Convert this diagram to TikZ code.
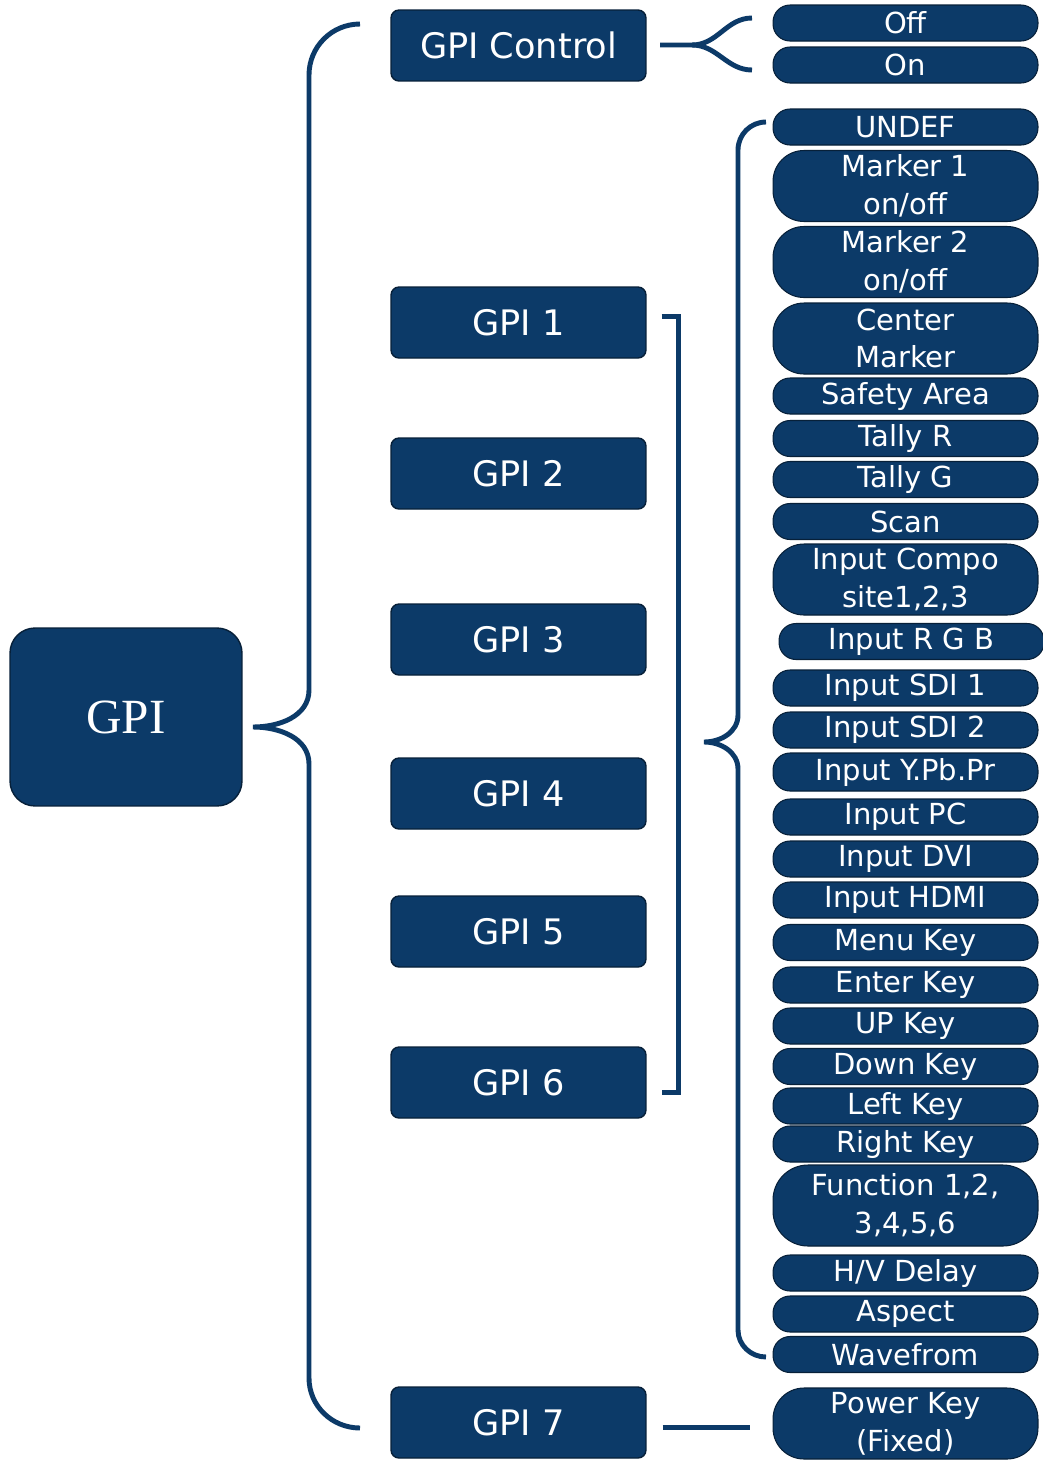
\documentclass[tikz,border=0pt]{standalone}
\usepackage{fontspec}
\setmainfont{DejaVu Sans}
\newfontfamily\gpifont{Liberation Serif}
\usepackage{tikz}
\usetikzlibrary{calc}
\usepackage{xcolor}
\definecolor{gpiblue}{RGB}{12, 58, 104}

\begin{document}
\begin{tikzpicture}[
  x=0.02cm, y=-0.02cm,
  box/.style={draw=gpiblue!55!black, line width=0.8pt, fill=gpiblue, text=white,
              rounded corners=0.16cm, minimum width=5.1cm, minimum height=1.42cm,
              inner sep=0pt, align=center, font=\fontsize{20}{24}\selectfont},
  pill/.style={draw=gpiblue!55!black, line width=0.6pt, fill=gpiblue, text=white,
               rounded corners=0.34cm, minimum width=5.3cm, minimum height=0.72cm,
               inner sep=0pt, align=center, font=\fontsize{16.5}{21.5}\selectfont},
  tallpill/.style={pill, rounded corners=0.62cm, minimum height=1.42cm},
  brace/.style={draw=gpiblue, line width=2.8pt}
]
  \fill[white] (0,0) rectangle (1042,1461);
  \useasboundingbox (0,0) rectangle (1042,1461);

  % root
  \node[box, minimum width=4.64cm, minimum height=3.56cm, rounded corners=0.5cm,
        font=\gpifont\fontsize{28}{32}\selectfont] (gpi) at (126,717) {GPI};

  % inputs
  \node[box] (ctl) at (518.5,45.5) {GPI Control};
  \node[box] (g1) at (518.5,322.5) {GPI 1};
  \node[box] (g2) at (518.5,473.5) {GPI 2};
  \node[box] (g3) at (518.5,639.5) {GPI 3};
  \node[box] (g4) at (518.5,793.5) {GPI 4};
  \node[box] (g5) at (518.5,931.5) {GPI 5};
  \node[box] (g6) at (518.5,1082.5) {GPI 6};
  \node[box] (g7) at (518.5,1422.5) {GPI 7};

  % settings
  \node[pill] (off) at (905.5,23) {Off};
  \node[pill] (on) at (905.5,65) {On};
  \node[pill] (undef) at (905.5,127) {UNDEF};
  \node[tallpill] (mk1) at (905.5,186) {Marker 1\\on/off};
  \node[tallpill] (mk2) at (905.5,262) {Marker 2\\on/off};
  \node[tallpill] (ctrmk) at (905.5,338.5) {Center\\Marker};
  \node[pill] (safety) at (905.5,396) {Safety Area};
  \node[pill] (tallyr) at (905.5,438.5) {Tally R};
  \node[pill] (tallyg) at (905.5,479.5) {Tally G};
  \node[pill] (scan) at (905.5,521.5) {Scan};
  \node[tallpill] (incomp) at (905.5,579.5) {Input Compo\\site1,2,3};
  \node[pill] (inrgb) at (911.5,641.5) {Input R G B};
  \node[pill] (sdi1) at (905.5,688) {Input SDI 1};
  \node[pill] (sdi2) at (905.5,730) {Input SDI 2};
  \node[pill, minimum height=0.76cm] (ypbpr) at (905.5,772) {Input Y.Pb.Pr};
  \node[pill] (inpc) at (905.5,817) {Input PC};
  \node[pill] (indvi) at (905.5,859) {Input DVI};
  \node[pill] (inhdmi) at (905.5,900) {Input HDMI};
  \node[pill] (menu) at (905.5,942.5) {Menu Key};
  \node[pill] (enter) at (905.5,985) {Enter Key};
  \node[pill] (upkey) at (905.5,1026) {UP Key};
  \node[pill] (downkey) at (905.5,1066.5) {Down Key};
  \node[pill] (leftkey) at (905.5,1106) {Left Key};
  \node[pill] (rightkey) at (905.5,1144) {Right Key};
  \node[tallpill, minimum height=1.62cm, rounded corners=0.7cm] (func) at (905.5,1205.5) {Function 1,2,\\3,4,5,6};
  \node[pill] (hvdelay) at (905.5,1273) {H/V Delay};
  \node[pill] (aspect) at (905.5,1314) {Aspect};
  \node[pill] (wave) at (905.5,1354.5) {Wavefrom};
  \node[tallpill] (power) at (905.5,1423.5) {Power Key\\(Fixed)};

  % brace points
  \coordinate (lbtop) at (360,24);
  \coordinate (lbtip) at (253,727);
  \coordinate (lbbot) at (360,1428);
  \coordinate (rbtop) at (766,122);
  \coordinate (rbtip) at (704,742);
  \coordinate (rbbot) at (766,1357);
  \coordinate (cbtip) at (660,45);
  \coordinate (cbtop) at (752,18);
  \coordinate (cbbot) at (752,70);
  \coordinate (g7out) at ([xshift=0.32cm,yshift=-0.1cm]g7.east);

  % GPI -> inputs
  \draw[brace] (lbtop) to[out=180,in=90] (309,75) -- (309,690)
    to[out=-90,in=0] (lbtip) to[out=0,in=90] (309,764) -- (309,1378)
    to[out=-90,in=180] (lbbot);
  % GPI Control -> Off/On
  \draw[brace] (cbtop) to[out=180,in=0] (692,45) -- (cbtip);
  \draw[brace] (cbbot) to[out=180,in=0] (692,45);
  % GPI 1..6 -> functions
  \draw[brace] ([xshift=0.3cm,yshift=0.12cm]g1.east) -- ++(0.34cm,0)
    |- ([xshift=0.3cm,yshift=-0.2cm]g6.east);
  \draw[brace] (rbtop) to[out=180,in=90] (738,150) -- (738,715)
    to[out=-90,in=0] (rbtip) to[out=0,in=90] (738,769) -- (738,1330)
    to[out=-90,in=180] (rbbot);
  % GPI 7 -> Power Key
  \draw[brace] (g7out) -- ([xshift=-0.46cm]power.west |- g7out);
\end{tikzpicture}
\end{document}
